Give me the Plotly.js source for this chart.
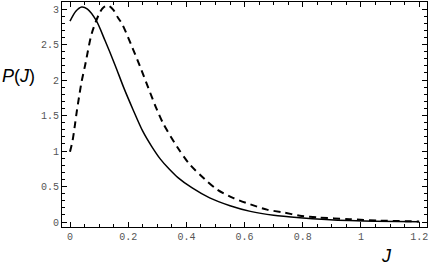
<!DOCTYPE html>
<html>
<head>
<meta charset="utf-8">
<script src="https://cdn.plot.ly/plotly-3.0.1.min.js"></script>
<style>html,body{margin:0;padding:0;background:#fff;}#chart{width:436px;height:268px;}</style>
</head>
<body>
<div id="chart"></div>
<script>
// Solid curve
const solidJ = [0, 0.02, 0.04, 0.06, 0.09, 0.12, 0.155, 0.185, 0.216, 0.25, 0.28, 0.31, 0.34, 0.37, 0.42, 0.48, 0.55, 0.62, 0.70, 0.79, 0.88, 0.96, 1.05, 1.2];
const solidP = [2.83, 2.97, 3.03, 3.00, 2.84, 2.56, 2.21, 1.89, 1.59, 1.28, 1.07, 0.89, 0.75, 0.63, 0.48, 0.34, 0.23, 0.15, 0.095, 0.06, 0.035, 0.02, 0.012, 0.005];
// Dashed curve
const dashJ = [0, 0.009, 0.017, 0.023, 0.031, 0.040, 0.052, 0.075, 0.101, 0.114, 0.131, 0.149, 0.166, 0.178, 0.21, 0.241, 0.27, 0.298, 0.32, 0.368, 0.412, 0.464, 0.505, 0.56, 0.619, 0.677, 0.733, 0.79, 0.85, 0.96, 1.065, 1.2];
const dashP = [0.99, 1.15, 1.37, 1.55, 1.76, 1.98, 2.21, 2.66, 2.94, 3.02, 3.05, 2.99, 2.87, 2.80, 2.50, 2.19, 1.88, 1.59, 1.39, 1.06, 0.81, 0.60, 0.46, 0.34, 0.25, 0.175, 0.135, 0.09, 0.065, 0.04, 0.02, 0.008];
const xTicks = [0, 0.2, 0.4, 0.6, 0.8, 1, 1.2];
const yTicks = [0, 0.5, 1, 1.5, 2, 2.5, 3];

const tickFont = {family: 'Liberation Mono, Courier New, monospace', size: 10, color: '#555'};

const data = [
  {x: solidJ, y: solidP, type: 'scatter', mode: 'lines', line: {color: '#000', width: 1.5, shape: 'spline', smoothing: 0.8}, hoverinfo: 'skip'},
  {x: dashJ, y: dashP, type: 'scatter', mode: 'lines', line: {color: '#000', width: 2, dash: '7px,5px', shape: 'spline', smoothing: 0.8}, hoverinfo: 'skip'}
];

const layout = {
  width: 436, height: 268,
  margin: {l: 62, r: 9, t: 2, b: 41, pad: 0},
  paper_bgcolor: '#fff', plot_bgcolor: '#fff',
  showlegend: false,
  xaxis: {
    range: [-0.0275, 1.227], tickvals: xTicks, ticktext: xTicks.map(String),
    ticks: 'inside', ticklen: 5, tickcolor: '#000', tickwidth: 1,
    minor: {dtick: 0.05, ticks: 'inside', ticklen: 3, tickcolor: '#000'},
    showline: true, linecolor: '#000', linewidth: 1, mirror: 'allticks',
    showgrid: false, zeroline: false, tickfont: tickFont
  },
  yaxis: {
    range: [-0.07, 3.1], tickvals: yTicks, ticktext: yTicks.map(String),
    ticks: 'inside', ticklen: 5, tickcolor: '#000', tickwidth: 1,
    minor: {dtick: 0.1, ticks: 'inside', ticklen: 3, tickcolor: '#000'},
    showline: true, linecolor: '#000', linewidth: 1, mirror: 'allticks',
    showgrid: false, zeroline: false, tickfont: tickFont
  },
  annotations: [
    {text: '<i>P</i>(<i>J</i>)', xref: 'paper', yref: 'paper', x: -0.12, y: 0.67, xanchor: 'center', yanchor: 'middle', showarrow: false,
     font: {family: 'Liberation Sans, Arial, sans-serif', size: 18, color: '#000'}},
    {text: '<i>J</i>', xref: 'paper', yref: 'paper', x: 0.89, y: -0.13, xanchor: 'center', yanchor: 'middle', showarrow: false,
     font: {family: 'Liberation Sans, Arial, sans-serif', size: 18, color: '#000'}}
  ]
};

Plotly.newPlot('chart', data, layout, {staticPlot: true, displayModeBar: false});
</script>
</body>
</html>
